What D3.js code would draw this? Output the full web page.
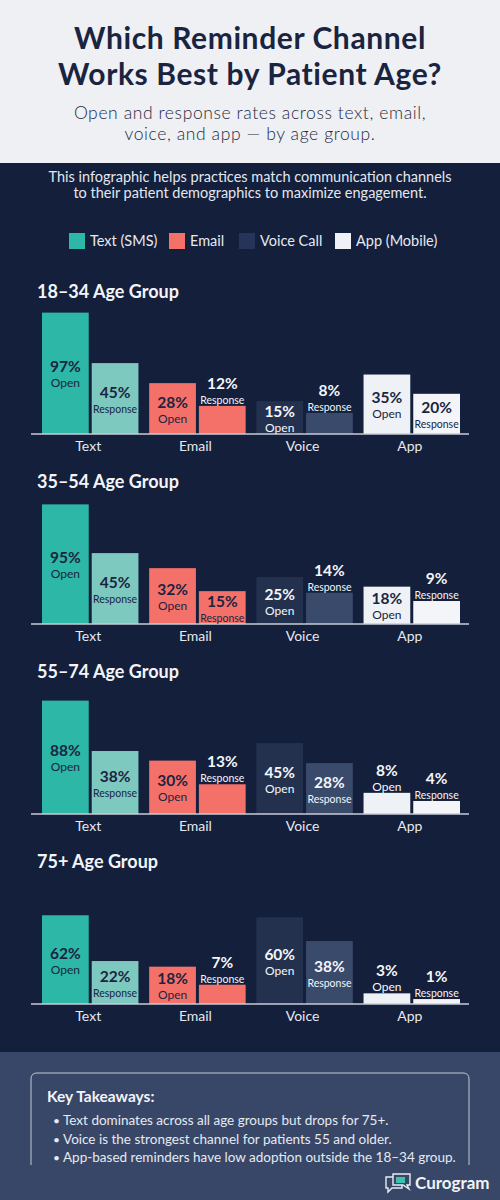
<!DOCTYPE html>
<html>
<head>
<meta charset="utf-8">
<script src="https://cdn.jsdelivr.net/npm/d3@7"></script>
<style>
  body { margin: 0; background: #131f3b; }
  svg { display: block; font-family: Lato, "Open Sans", sans-serif; }
</style>
</head>
<body>
<div id="container"></div>
<script>
let w = 500;
let h = 1200;

// data
let ageGroups = ["18–34 Age Group", "35–54 Age Group", "55–74 Age Group", "75+ Age Group"];
let channels = ["Text", "Email", "Voice", "App"];
let legendLabels = ["Text (SMS)", "Email", "Voice Call", "App (Mobile)"];
let openRates = [
  [97, 28, 15, 35],
  [95, 32, 25, 18],
  [88, 30, 45, 8],
  [62, 18, 60, 3]
];
let responseRates = [
  [45, 12, 8, 20],
  [45, 15, 14, 9],
  [38, 13, 28, 4],
  [22, 7, 38, 1]
];
let takeaways = [
  "Text dominates across all age groups but drops for 75+.",
  "Voice is the strongest channel for patients 55 and older.",
  "App-based reminders have low adoption outside the 18–34 group."
];

let openColors = ["#2db7a6", "#f4716a", "#23314f", "#eef1f5"];
let respColors = ["#7dc8bf", "#f4716a", "#3a4a6b", "#f3f5f8"];
let darkText = "#1b2440";

let viz = d3.select("#container")
  .append("svg")
  .attr("width", w)
  .attr("height", h);

// backgrounds
viz.append("rect").attr("width", w).attr("height", h).attr("fill", "#131f3b");
viz.append("rect").attr("width", w).attr("height", 163).attr("fill", "#eef0f3");
viz.append("rect").attr("y", 1052).attr("width", w).attr("height", h - 1052).attr("fill", "#384767");

// header
let title = ["Which Reminder Channel", "Works Best by Patient Age?"];
viz.selectAll(".title").data(title).enter().append("text")
  .attr("x", w / 2).attr("y", function (d, i) { return 49 + i * 36; })
  .attr("text-anchor", "middle").attr("font-size", 30).attr("font-weight", 700)
  .attr("letter-spacing", 0.6)
  .attr("fill", "#1a2440").text(function (d) { return d; });

let subtitle = ["Open and response rates across text, email,", "voice, and app — by age group."];
viz.selectAll(".sub").data(subtitle).enter().append("text")
  .attr("x", w / 2).attr("y", function (d, i) { return 119 + i * 21; })
  .attr("text-anchor", "middle").attr("font-size", 17.5).attr("font-weight", 300)
  .attr("letter-spacing", 0.6)
  .attr("fill", "#1e2a44").text(function (d) { return d; });

let intro = ["This infographic helps practices match communication channels", "to their patient demographics to maximize engagement."];
viz.selectAll(".intro").data(intro).enter().append("text")
  .attr("x", w / 2).attr("y", function (d, i) { return 182 + i * 16; })
  .attr("text-anchor", "middle").attr("font-size", 14.5)
  .attr("fill", "#e3e7ef").text(function (d) { return d; });

// legend
let legendX = [69, 169, 239, 335];
let legend = viz.selectAll(".legend").data(legendLabels).enter().append("g")
  .attr("transform", function (d, i) { return "translate(" + legendX[i] + ",233)"; });
legend.append("rect").attr("width", 16).attr("height", 16)
  .attr("fill", function (d, i) { return i == 2 ? "#26345a" : openColors[i]; });
legend.append("text").attr("x", 21).attr("y", 13).attr("font-size", 14.5)
  .attr("fill", "#e6e9f0").text(function (d) { return d; });

// scales
let xScale = d3.scaleBand().domain(channels).range([42, 460]).paddingInner(0.1);
let subScale = d3.scaleBand().domain(["Open", "Response"]).range([0, xScale.bandwidth()]).paddingInner(0.06);
let yScale = d3.scalePow().exponent(0.7).domain([0, 100]).range([0, 124]);

ageGroups.forEach(function (group, gi) {
  let base = 434 + gi * 190;
  let g = viz.append("g").attr("class", "group");

  g.append("text").attr("x", 37).attr("y", base - 136)
    .attr("font-size", 18).attr("font-weight", 700).attr("fill", "#f2f4f8")
    .text(group);

  let bars = [];
  channels.forEach(function (c, ci) {
    bars.push({ c: c, ci: ci, kind: "Open", v: openRates[gi][ci], color: openColors[ci] });
    bars.push({ c: c, ci: ci, kind: "Response", v: responseRates[gi][ci], color: respColors[ci] });
  });

  g.selectAll(".bar").data(bars).enter().append("rect")
    .attr("x", function (d) { return xScale(d.c) + subScale(d.kind); })
    .attr("y", function (d) { return base - yScale(d.v); })
    .attr("width", subScale.bandwidth())
    .attr("height", function (d) { return yScale(d.v); })
    .attr("fill", function (d) { return d.color; });

  g.append("line").attr("x1", 31).attr("x2", 469).attr("y1", base).attr("y2", base)
    .attr("stroke", "#c9cdd7").attr("stroke-width", 1.5);

  let labels = g.selectAll(".lab").data(bars).enter().append("g")
    .attr("transform", function (d) {
      let bh = yScale(d.v);
      let cx = xScale(d.c) + subScale(d.kind) + subScale.bandwidth() / 2;
      let cy = bh >= 32 ? base - bh / 2 : base - bh - 16;
      return "translate(" + cx + "," + cy + ")";
    })
    .attr("fill", function (d) {
      let inside = yScale(d.v) >= 32;
      return (inside && d.ci != 2) ? darkText : "#f4f6fa";
    })
    .attr("text-anchor", "middle");
  labels.append("text").attr("y", -1)
    .attr("font-size", 15.5)
    .attr("font-weight", 700)
    .text(function (d) { return d.v + "%"; });
  labels.append("text").attr("y", 14)
    .attr("font-size", function (d) { return d.kind == "Open" ? 12 : 10.5; })
    .text(function (d) { return d.kind; });

  g.selectAll(".cat").data(channels).enter().append("text")
    .attr("x", function (d) { return xScale(d) + xScale.bandwidth() / 2 - 2; })
    .attr("y", base + 17)
    .attr("text-anchor", "middle").attr("font-size", 14).attr("fill", "#e6e9f0")
    .text(function (d) { return d; });
});

// key takeaways box (open at the bottom, as in the reference)
viz.append("path")
  .attr("d", "M31,1165 L31,1079 Q31,1073 37,1073 L463,1073 Q469,1073 469,1079 L469,1165")
  .attr("fill", "none").attr("stroke", "#c3c9d6").attr("stroke-width", 1);
viz.append("text").attr("x", 47).attr("y", 1102)
  .attr("font-size", 15.5).attr("font-weight", 700).attr("fill", "#f2f4f8")
  .text("Key Takeaways:");
let tk = viz.selectAll(".tk").data(takeaways).enter().append("g")
  .attr("transform", function (d, i) { return "translate(0," + (1125 + i * 18.5) + ")"; });
tk.append("text").attr("x", 53).attr("font-size", 12).attr("fill", "#e6eaf2").text("•");
tk.append("text").attr("x", 63).attr("font-size", 13.5).attr("fill", "#e6eaf2")
  .text(function (d) { return d; });

// logo
let logo = viz.append("g").attr("transform", "translate(385,1174)");
logo.append("path").attr("d", "M1,3 h16 v11 h-10 l-4,4 v-4 h-2 z")
  .attr("fill", "#384767").attr("stroke", "#e8ecf2").attr("stroke-width", 1.4);
logo.append("path").attr("d", "M8,0 h17 v11 h-3 l2,4 -6,-4 h-10 z")
  .attr("fill", "#384767").attr("stroke", "#e8ecf2").attr("stroke-width", 1.4);
logo.append("rect").attr("x", 11).attr("y", 3).attr("width", 9).attr("height", 6).attr("fill", "#3fc0ae");
viz.append("text").attr("x", 415).attr("y", 1189)
  .attr("font-size", 17).attr("font-weight", 700).attr("fill", "#f2f4f8")
  .text("Curogram");
</script>
</body>
</html>
